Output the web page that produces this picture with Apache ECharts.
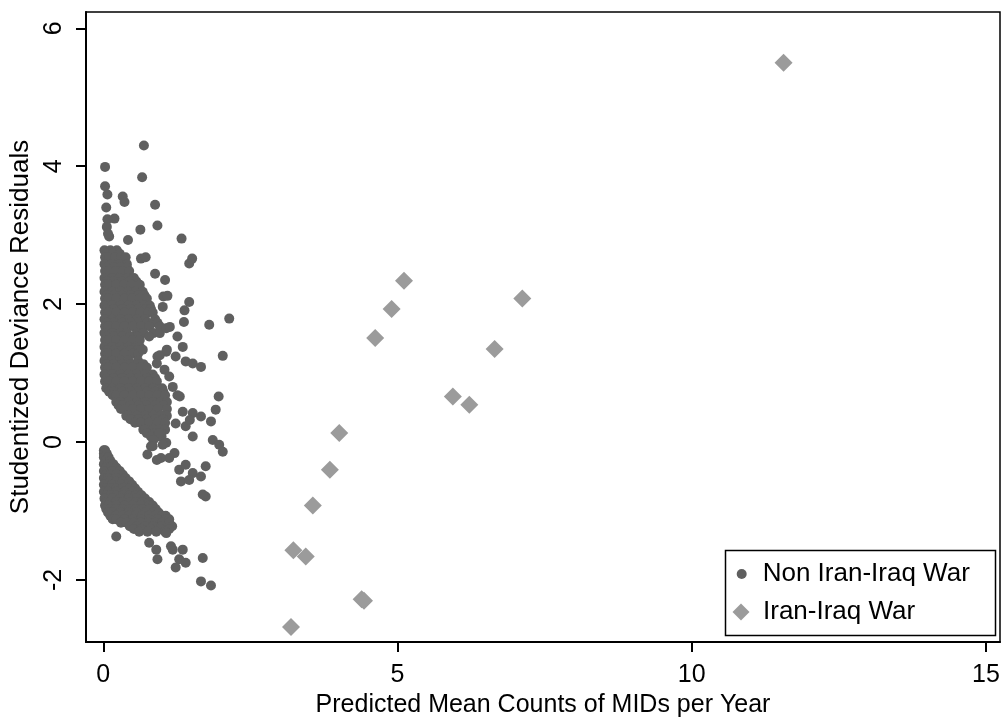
<!DOCTYPE html>
<html><head><meta charset="utf-8">
<script src="https://cdn.jsdelivr.net/npm/echarts@6/dist/echarts.min.js"></script>
<style>html,body{margin:0;padding:0;background:#fff}#c{width:1005px;height:723px}</style>
</head><body><div id="c"></div>
<script>
const xTicks = [0, 5, 10, 15];
const yTicks = [-2, 0, 2, 4, 6];
const xTitle = 'Predicted Mean Counts of MIDs per Year';
const yTitle = 'Studentized Deviance Residuals';
const seriesNames = ['Non Iran-Iraq War', 'Iran-Iraq War'];

// Non Iran-Iraq War: dense upper band (positive residuals)
const nonWarUpper = [
[0.02,2.78],[0.12,2.78],[0.23,2.78],
[0.06,2.73],[0.17,2.73],[0.28,2.73],
[0.03,2.68],[0.10,2.68],[0.20,2.68],[0.30,2.68],[0.38,2.68],
[0.02,2.58],[0.14,2.58],[0.27,2.58],[0.40,2.58],
[0.06,2.53],[0.18,2.53],[0.30,2.53],[0.40,2.53],
[0.03,2.48],[0.09,2.48],[0.21,2.48],[0.33,2.48],[0.44,2.48],
[0.02,2.38],[0.15,2.38],[0.28,2.38],[0.41,2.38],[0.52,2.38],
[0.06,2.33],[0.18,2.33],[0.32,2.33],[0.45,2.33],[0.56,2.33],
[0.03,2.28],[0.09,2.28],[0.22,2.28],[0.35,2.28],[0.48,2.28],[0.62,2.28],
[0.02,2.18],[0.15,2.18],[0.29,2.18],[0.42,2.18],[0.55,2.18],[0.67,2.18],
[0.06,2.13],[0.18,2.13],[0.32,2.13],[0.46,2.13],[0.60,2.13],[0.70,2.13],
[0.03,2.08],[0.09,2.08],[0.22,2.08],[0.36,2.08],[0.49,2.08],[0.62,2.08],[0.74,2.08],
[0.02,1.98],[0.15,1.98],[0.29,1.98],[0.43,1.98],[0.56,1.98],[0.69,1.98],[0.79,1.98],
[0.06,1.93],[0.18,1.93],[0.32,1.93],[0.46,1.93],[0.60,1.93],[0.72,1.93],[0.81,1.93],
[0.03,1.88],[0.09,1.88],[0.22,1.88],[0.36,1.88],[0.50,1.88],[0.63,1.88],[0.76,1.88],[0.84,1.88],
[0.02,1.78],[0.15,1.78],[0.29,1.78],[0.43,1.78],[0.57,1.78],[0.71,1.78],[0.88,1.78],
[0.06,1.73],[0.18,1.73],[0.32,1.73],[0.46,1.73],[0.60,1.73],[0.74,1.73],[0.85,1.73],[0.92,1.73],
[0.03,1.68],[0.09,1.68],[0.22,1.68],[0.36,1.68],[0.50,1.68],[0.64,1.68],[0.78,1.68],[0.96,1.68],
[0.02,1.58],[0.15,1.58],[0.29,1.58],[0.40,1.58],[0.57,1.58],[0.68,1.58],[0.85,1.58],[0.96,1.58],
[0.06,1.53],[0.18,1.53],[0.32,1.53],[0.46,1.53],[0.58,1.53],[0.78,1.53],
[0.03,1.48],[0.09,1.48],[0.22,1.48],[0.36,1.48],[0.50,1.48],[0.62,1.48],
[0.02,1.38],[0.15,1.38],[0.29,1.38],[0.43,1.38],[0.56,1.38],[0.62,1.38],
[0.06,1.33],[0.18,1.33],[0.32,1.33],[0.46,1.33],[0.58,1.33],
[0.03,1.28],[0.09,1.28],[0.22,1.28],[0.36,1.28],[0.50,1.28],[0.59,1.28],
[0.02,1.18],[0.15,1.18],[0.29,1.18],[0.43,1.18],[0.59,1.18],
[0.06,1.13],[0.18,1.13],[0.32,1.13],[0.46,1.13],[0.58,1.13],[0.68,1.13],
[0.03,1.08],[0.09,1.08],[0.22,1.08],[0.36,1.08],[0.50,1.08],[0.64,1.08],[0.74,1.08],
[0.02,0.98],[0.15,0.98],[0.29,0.98],[0.43,0.98],[0.57,0.98],[0.71,0.98],[0.84,0.98],
[0.06,0.93],[0.18,0.93],[0.32,0.93],[0.46,0.93],[0.60,0.93],[0.74,0.93],[0.88,0.93],
[0.03,0.88],[0.09,0.88],[0.22,0.88],[0.36,0.88],[0.50,0.88],[0.64,0.88],[0.78,0.88],[0.91,0.88],
[0.05,0.78],[0.15,0.78],[0.29,0.78],[0.43,0.78],[0.57,0.78],[0.71,0.78],[0.85,0.78],[1.00,0.78],
[0.10,0.73],[0.18,0.73],[0.32,0.73],[0.46,0.73],[0.60,0.73],[0.74,0.73],[0.88,0.73],[1.02,0.73],
[0.16,0.68],[0.22,0.68],[0.36,0.68],[0.50,0.68],[0.64,0.68],[0.78,0.68],[0.92,0.68],[1.05,0.68],
[0.22,0.58],[0.29,0.58],[0.43,0.58],[0.57,0.58],[0.71,0.58],[0.85,0.58],[0.98,0.58],[1.08,0.58],
[0.26,0.53],[0.32,0.53],[0.46,0.53],[0.60,0.53],[0.74,0.53],[0.88,0.53],[1.02,0.53],
[0.30,0.48],[0.36,0.48],[0.50,0.48],[0.64,0.48],[0.78,0.48],[0.92,0.48],[1.08,0.48],
[0.39,0.38],[0.43,0.38],[0.57,0.38],[0.71,0.38],[0.85,0.38],[0.98,0.38],[1.08,0.38],
[0.46,0.33],[0.60,0.33],[0.74,0.33],[0.88,0.33],[1.02,0.33],
[0.54,0.28],[0.64,0.28],[0.78,0.28],[0.92,0.28],[1.05,0.28],
[0.68,0.18],[0.71,0.18],[0.85,0.18],[0.98,0.18],[1.05,0.18],
[0.74,0.13],[0.88,0.13],[0.98,0.13],
[0.81,0.08],[0.92,0.08],[0.99,0.08]
];

// Non Iran-Iraq War: dense lower band (negative residuals)
const nonWarLower = [
[0.01,-0.12],[0.03,-0.12],
[0.01,-0.17],[0.06,-0.17],
[0.01,-0.22],[0.09,-0.22],
[0.04,-0.27],[0.12,-0.27],
[0.01,-0.32],[0.08,-0.32],[0.17,-0.32],
[0.05,-0.37],[0.12,-0.37],[0.22,-0.37],
[0.01,-0.42],[0.15,-0.42],[0.28,-0.42],
[0.05,-0.47],[0.12,-0.47],[0.22,-0.47],[0.33,-0.47],
[0.01,-0.52],[0.08,-0.52],[0.22,-0.52],[0.38,-0.52],
[0.05,-0.57],[0.12,-0.57],[0.22,-0.57],[0.33,-0.57],[0.44,-0.57],
[0.01,-0.62],[0.15,-0.62],[0.29,-0.62],[0.43,-0.62],[0.49,-0.62],
[0.05,-0.67],[0.12,-0.67],[0.22,-0.67],[0.33,-0.67],[0.44,-0.67],[0.54,-0.67],
[0.01,-0.72],[0.08,-0.72],[0.22,-0.72],[0.36,-0.72],[0.50,-0.72],[0.59,-0.72],
[0.05,-0.77],[0.12,-0.77],[0.22,-0.77],[0.33,-0.77],[0.44,-0.77],[0.55,-0.77],[0.65,-0.77],
[0.02,-0.82],[0.15,-0.82],[0.29,-0.82],[0.43,-0.82],[0.57,-0.82],[0.71,-0.82],
[0.05,-0.87],[0.12,-0.87],[0.22,-0.87],[0.33,-0.87],[0.44,-0.87],[0.55,-0.87],[0.66,-0.87],[0.78,-0.87],
[0.03,-0.92],[0.08,-0.92],[0.22,-0.92],[0.36,-0.92],[0.50,-0.92],[0.64,-0.92],[0.78,-0.92],[0.84,-0.92],
[0.05,-0.97],[0.12,-0.97],[0.22,-0.97],[0.33,-0.97],[0.44,-0.97],[0.55,-0.97],[0.66,-0.97],[0.78,-0.97],[0.89,-0.97],
[0.08,-1.02],[0.15,-1.02],[0.29,-1.02],[0.43,-1.02],[0.57,-1.02],[0.71,-1.02],[0.85,-1.02],[0.94,-1.02],
[0.12,-1.07],[0.22,-1.07],[0.33,-1.07],[0.44,-1.07],[0.55,-1.07],[0.66,-1.07],[0.78,-1.07],[0.89,-1.07],[1.00,-1.07],[1.06,-1.07],
[0.16,-1.12],[0.22,-1.12],[0.36,-1.12],[0.50,-1.12],[0.64,-1.12],[0.78,-1.12],[0.92,-1.12],[1.06,-1.12],[1.12,-1.12],
[0.30,-1.17],[0.40,-1.17],[0.52,-1.17],[0.64,-1.17],[0.76,-1.17],[0.88,-1.17],[1.00,-1.17],[1.12,-1.17],
[0.45,-1.22],[0.57,-1.22],[0.71,-1.22],[0.85,-1.22],[0.99,-1.22],[1.17,-1.22],
[0.52,-1.26],[0.64,-1.26],[0.80,-1.26],[0.97,-1.26],[1.12,-1.26],
[0.61,-1.30],[0.75,-1.30],[0.90,-1.30],[1.05,-1.30]
];

// Non Iran-Iraq War: scattered points
const nonWarScattered = [
[0.69,4.30],[0.03,3.99],[0.66,3.84],[0.03,3.71],[0.07,3.59],[0.33,3.56],[0.36,3.48],[0.88,3.44],
[0.05,3.40],[0.19,3.24],[0.07,3.23],[0.06,3.12],[0.92,3.14],[0.63,3.08],[0.10,2.98],[0.08,3.02],
[0.42,2.93],[1.33,2.95],[0.64,2.66],[0.72,2.68],[1.46,2.59],[1.51,2.66],[0.88,2.44],[1.05,2.35],
[1.02,2.11],[1.09,2.12],[1.01,1.96],[1.46,2.03],[1.38,1.91],[1.37,1.74],[1.80,1.70],[2.14,1.79],
[1.07,1.65],[1.13,1.67],[1.26,1.53],[1.35,1.38],[0.67,1.34],[0.92,1.24],[1.07,1.31],[0.96,1.26],
[1.08,1.34],[1.23,1.24],[1.40,1.17],[1.52,1.14],[1.66,1.09],[2.03,1.25],[0.91,1.14],[1.04,1.05],
[1.12,0.95],[1.18,0.80],[1.26,0.68],[1.30,0.66],[1.96,0.66],[1.91,0.47],[1.35,0.44],[1.52,0.42],
[1.66,0.37],[1.83,0.30],[1.23,0.27],[1.40,0.23],[1.52,0.08],[1.47,0.32],[0.95,0.13],[1.07,-0.01],
[0.85,0.03],[1.86,0.03],[1.97,-0.04],[0.81,-0.06],
[0.75,-0.18],[0.84,-0.06],[1.01,-0.04],[1.21,-0.16],[1.12,-0.23],[0.98,-0.23],[0.91,-0.26],
[1.29,-0.40],[1.40,-0.33],[1.52,-0.45],[1.66,-0.50],[1.74,-0.35],[1.32,-0.57],[1.46,-0.55],
[1.74,-0.79],[1.69,-0.76],[2.03,-0.14],[0.22,-1.37],
[0.78,-1.46],[0.90,-1.56],[0.92,-1.70],[1.18,-1.56],[1.29,-1.70],[1.40,-1.75],[1.35,-1.56],
[1.23,-1.82],[1.69,-1.68],[1.66,-2.02],[1.83,-2.08],[1.07,-1.32],[1.15,-1.51]
];

// Iran-Iraq War
const iranIraqWar = [
[11.56,5.50],[5.11,2.34],[4.90,1.93],[4.62,1.51],[7.12,2.08],[6.65,1.35],[5.94,0.66],[6.22,0.54],
[4.01,0.13],[3.85,-0.40],[3.56,-0.92],[3.23,-1.57],[3.44,-1.66],[4.39,-2.28],[4.43,-2.30],[3.19,-2.68]
];

const FONT = '"Liberation Sans", Arial, sans-serif';
const chart = echarts.init(document.getElementById('c'), null, {renderer: 'canvas'});
const nonWar = nonWarUpper.concat(nonWarLower, nonWarScattered);

chart.setOption({
  animation: false,
  backgroundColor: '#fff',
  textStyle: {fontFamily: FONT},
  grid: {left: 86, right: 5, top: 12, bottom: 81, show: true, borderColor: '#000', borderWidth: 1.5},
  xAxis: {
    type: 'value', min: -0.294, max: 15.238,
    name: xTitle, nameLocation: 'middle', nameGap: 44,
    nameTextStyle: {fontSize: 25, color: '#000', fontFamily: FONT},
    axisLine: {show: true, onZero: false, lineStyle: {color: '#000', width: 2}},
    axisTick: {show: true, length: 10, lineStyle: {color: '#000', width: 2}, customValues: xTicks},
    axisLabel: {fontSize: 25, color: '#000', margin: 21, fontFamily: FONT, customValues: xTicks},
    splitLine: {show: false}
  },
  yAxis: {
    type: 'value', min: -2.899, max: 6.236,
    name: yTitle, nameLocation: 'middle', nameGap: 38,
    nameTextStyle: {fontSize: 26, color: '#000', fontFamily: FONT},
    axisLine: {show: true, onZero: false, lineStyle: {color: '#000', width: 2}},
    axisTick: {show: true, length: 10, lineStyle: {color: '#000', width: 2}, customValues: yTicks},
    axisLabel: {fontSize: 25, color: '#000', margin: 19, rotate: 90, fontFamily: FONT, customValues: yTicks},
    splitLine: {show: false}
  },
  legend: [
    {data: [{name: seriesNames[0], icon: 'circle'}], left: 736.7, top: 561, padding: 0,
     itemWidth: 10, itemHeight: 10, itemGap: 0,
     textStyle: {fontSize: 26, color: '#000', fontFamily: FONT, padding: [0, 0, 0, 11]}, selectedMode: false},
    {data: [{name: seriesNames[1], icon: 'diamond'}], left: 732.5, top: 599, padding: 0,
     itemWidth: 17, itemHeight: 17, itemGap: 0,
     textStyle: {fontSize: 26, color: '#000', fontFamily: FONT, padding: [0, 0, 0, 8.5]}, selectedMode: false}
  ],
  graphic: [{
    type: 'rect', left: 723, top: 548, z: 100,
    shape: {width: 270, height: 85},
    style: {fill: 'none', stroke: '#000', lineWidth: 1.5}
  }],
  series: [
    {type: 'scatter', name: seriesNames[0], data: nonWar, symbol: 'circle', symbolSize: 10,
     itemStyle: {color: '#5f5f5f', opacity: 1}, silent: true},
    {type: 'scatter', name: seriesNames[1], data: iranIraqWar, symbol: 'diamond', symbolSize: 18,
     itemStyle: {color: '#9b9b9b', opacity: 1}, silent: true}
  ]
});
</script></body></html>
